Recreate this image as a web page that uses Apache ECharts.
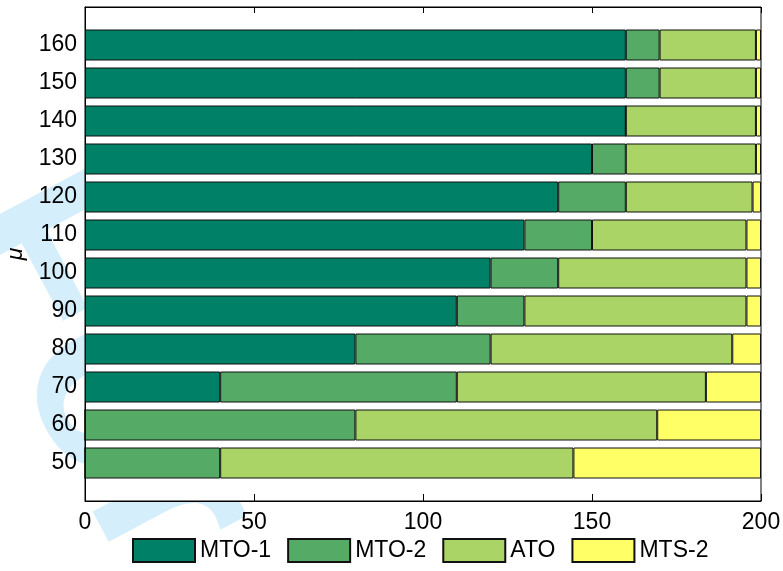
<!DOCTYPE html>
<html>
<head>
<meta charset="utf-8">
<script src="https://cdn.jsdelivr.net/npm/echarts@6/dist/echarts.min.js"></script>
<style>
  html, body { margin: 0; padding: 0; background: #fff; }
  #chart { width: 783px; height: 571px; }
</style>
</head>
<body>
<div id="chart"></div>
<script>
// mu values, bottom to top
const muValues = [50, 60, 70, 80, 90, 100, 110, 120, 130, 140, 150, 160];
const seriesNames = ['MTO-1', 'MTO-2', 'ATO', 'MTS-2'];
const mto1 = [0, 0, 40, 80, 110, 120, 130, 140, 150, 160, 160, 160];
const mto2 = [40, 80, 70, 40, 20, 20, 20, 20, 10, 0, 10, 10];
const ato = [104.5, 89.3, 73.7, 71.5, 65.7, 55.7, 45.7, 37.5, 38.5, 38.5, 28.5, 28.5];
const mts2 = [55.5, 30.7, 16.3, 8.5, 4.3, 4.3, 4.3, 2.5, 1.5, 1.5, 1.5, 1.5];
const xTicks = [0, 50, 100, 150, 200];

// ylim in the original is 40..170, so pad one empty slot at each end
const padLow = 40, padHigh = 170;
const yCats = [padLow].concat(muValues, [padHigh]);
const pad = (arr) => ['-'].concat(arr, ['-']);

const colors = ['#008066', '#55aa66', '#aad466', '#ffff66'];
const font = 'Liberation Sans, Arial, Helvetica, sans-serif';

const chart = echarts.init(document.getElementById('chart'));

const mkSeries = (name, data, i) => ({
  name: name,
  type: 'bar',
  stack: 'total',
  barWidth: 31,
  data: pad(data),
  itemStyle: { color: colors[i], borderColor: '#111', borderWidth: 1 },
  emphasis: { disabled: true }
});

chart.setOption({
  animation: false,
  textStyle: { fontFamily: font },
  // light "For Peer Review" stamp behind the plot
  graphic: [{
    type: 'text',
    z: -5,
    x: 2,
    y: 194,
    rotation: -62 * Math.PI / 180,
    style: {
      text: 'For Peer Review',
      fill: '#d4eefb',
      font: 'bold 250px Liberation Sans, Arial, sans-serif',
      verticalAlign: 'middle'
    }
  }],
  grid: {
    left: 85, right: 22, top: 7, bottom: 70,
    outerBoundsMode: 'none',
    show: true, backgroundColor: '#fff', borderColor: '#000', borderWidth: 1
  },
  legend: {
    data: seriesNames,
    left: 127,
    top: 533,
    itemWidth: 62,
    itemHeight: 23,
    itemGap: 16,
    icon: 'rect',
    textStyle: { fontSize: 23, color: '#000', fontFamily: font }
  },
  xAxis: [{
    type: 'value',
    min: xTicks[0], max: xTicks[xTicks.length - 1], interval: 50,
    position: 'bottom',
    axisLine: { show: true, lineStyle: { color: '#000', width: 1 } },
    axisTick: { show: true, inside: true, length: 7, lineStyle: { color: '#000' } },
    axisLabel: { fontSize: 23, color: '#000', margin: 10, fontFamily: font },
    splitLine: { show: false }
  }, {
    type: 'value',
    min: xTicks[0], max: xTicks[xTicks.length - 1], interval: 50,
    position: 'top',
    axisLine: { show: true, lineStyle: { color: '#000', width: 1 } },
    axisTick: { show: true, inside: true, length: 6, lineStyle: { color: '#000' } },
    axisLabel: { show: false },
    splitLine: { show: false }
  }],
  yAxis: {
    type: 'category',
    data: yCats,
    boundaryGap: false,
    name: 'μ',
    nameLocation: 'middle',
    nameGap: 58,
    nameRotate: 90,
    nameTextStyle: { fontSize: 23, fontStyle: 'italic', color: '#000', fontFamily: font },
    axisLine: { show: true, lineStyle: { color: '#000', width: 1 } },
    axisTick: { show: false },
    axisLabel: {
      fontSize: 23, color: '#000', margin: 8, interval: 0, fontFamily: font,
      formatter: (v) => (v == padLow || v == padHigh) ? '' : v
    },
    splitLine: { show: false }
  },
  series: [
    mkSeries(seriesNames[0], mto1, 0),
    mkSeries(seriesNames[1], mto2, 1),
    mkSeries(seriesNames[2], ato, 2),
    mkSeries(seriesNames[3], mts2, 3)
  ]
});
</script>
</body>
</html>
